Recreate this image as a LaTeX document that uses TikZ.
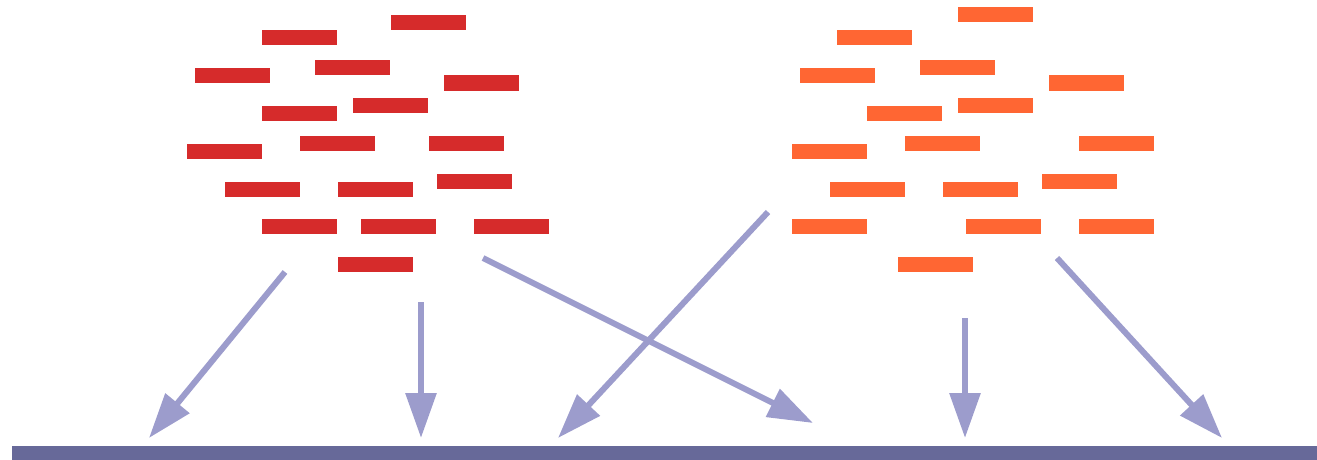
\documentclass[tikz,border=0pt]{standalone}
\usetikzlibrary{arrows.meta}
\definecolor{barred}{HTML}{D62B2B}
\definecolor{barorange}{HTML}{FF6633}
\definecolor{arrowblue}{HTML}{9C9CCC}
\definecolor{floorblue}{HTML}{676999}
\tikzset{
  redbar/.style={rectangle, fill=barred, draw=none, minimum width=75pt, minimum height=15pt, inner sep=0pt, outer sep=0pt},
  orangebar/.style={rectangle, fill=barorange, draw=none, minimum width=75pt, minimum height=15pt, inner sep=0pt, outer sep=0pt},
  floorbar/.style={rectangle, fill=floorblue, draw=none, minimum width=1305pt, minimum height=14pt, inner sep=0pt, outer sep=0pt},
  fallarrow/.style={draw=arrowblue, line width=6pt, -{Triangle[length=45pt, width=30pt]}}
}
\begin{document}
\begin{tikzpicture}[x=1pt, y=-1pt]
\useasboundingbox (0,0) rectangle (1317,460);
% red cluster
\node[redbar] (r1) at (299.5,37.5) {};
\node[redbar] (r2) at (428.5,22.5) {};
\node[redbar] (r3) at (232,75.5) {};
\node[redbar] (r4) at (352.5,68) {};
\node[redbar] (r5) at (481,83) {};
\node[redbar] (r6) at (299.5,113.5) {};
\node[redbar] (r7) at (390.5,105.5) {};
\node[redbar] (r8) at (224,151) {};
\node[redbar] (r9) at (337.5,143.5) {};
\node[redbar] (r10) at (466,143.5) {};
\node[redbar] (r11) at (262,189) {};
\node[redbar] (r12) at (375.5,189) {};
\node[redbar] (r13) at (474,181.5) {};
\node[redbar] (r14) at (299.5,226.5) {};
\node[redbar] (r15) at (398,226.5) {};
\node[redbar] (r16) at (511.5,226.5) {};
\node[redbar] (r17) at (375.5,264.5) {};
% orange cluster
\node[orangebar] (o1) at (995.5,14.5) {};
\node[orangebar] (o2) at (874.5,37.5) {};
\node[orangebar] (o3) at (837,75.5) {};
\node[orangebar] (o4) at (957.5,68) {};
\node[orangebar] (o5) at (1086.5,83) {};
\node[orangebar] (o6) at (904.5,113.5) {};
\node[orangebar] (o7) at (995.5,105.5) {};
\node[orangebar] (o8) at (829,151) {};
\node[orangebar] (o9) at (942.5,143.5) {};
\node[orangebar] (o10) at (1116.5,143.5) {};
\node[orangebar] (o11) at (867,189) {};
\node[orangebar] (o12) at (980.5,189) {};
\node[orangebar] (o13) at (1079,181.5) {};
\node[orangebar] (o14) at (829,226.5) {};
\node[orangebar] (o15) at (1003,226.5) {};
\node[orangebar] (o16) at (1116.5,226.5) {};
\node[orangebar] (o17) at (935,264.5) {};
% floor
\node[floorbar] (floor) at (664.5,453) {};
% arrow ends
\coordinate (a1s) at (285,272);
\coordinate (a1e) at (149,438);
\coordinate (a2s) at (421,302);
\coordinate (a2e) at (421,438);
\coordinate (a3s) at (483,258);
\coordinate (a3e) at (813,423);
\coordinate (a4s) at (768,212);
\coordinate (a4e) at (558,438);
\coordinate (a5s) at (965,318);
\coordinate (a5e) at (965,438);
\coordinate (a6s) at (1057,258);
\coordinate (a6e) at (1222,438);
\draw[fallarrow] (a1s) -- (a1e);
\draw[fallarrow] (a2s) -- (a2e);
\draw[fallarrow] (a3s) -- (a3e);
\draw[fallarrow] (a4s) -- (a4e);
\draw[fallarrow] (a5s) -- (a5e);
\draw[fallarrow] (a6s) -- (a6e);
\end{tikzpicture}
\end{document}
